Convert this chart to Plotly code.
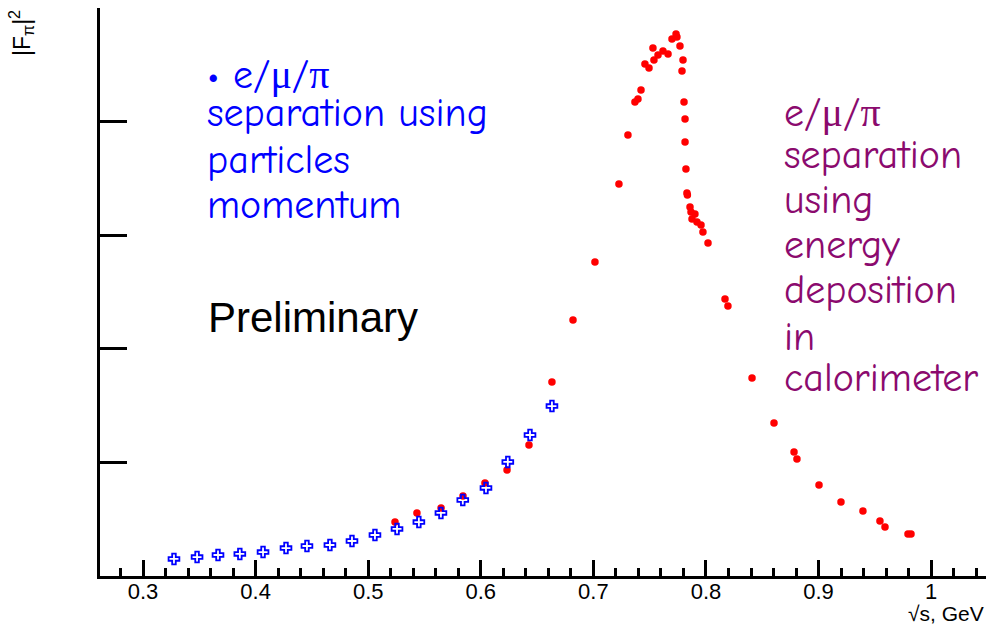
import plotly.graph_objects as go

# Blue: e/mu/pi separation using particle momentum
blue_x = [0.3275, 0.348, 0.3666, 0.386, 0.4066, 0.427, 0.4456, 0.466, 0.4856,
          0.506, 0.5256, 0.545, 0.5646, 0.584, 0.6046, 0.624, 0.6437, 0.6632]
blue_y = [1.50, 1.67, 1.85, 1.94, 2.11, 2.46, 2.64, 2.73, 3.08,
          3.61, 4.14, 4.75, 5.55, 6.69, 7.75, 10.04, 12.41, 14.96]

# Red: e/mu/pi separation using energy deposition in calorimeter
red_x = [0.5238, 0.5433, 0.5647, 0.5842, 0.6037, 0.6233, 0.6428, 0.6632, 0.6819,
         0.7014, 0.7227, 0.7307, 0.7369, 0.7396, 0.7423, 0.7458, 0.7494, 0.7529,
         0.7538, 0.7574, 0.7618, 0.7663, 0.7698, 0.7734, 0.7742, 0.7769, 0.7796,
         0.7787, 0.7805, 0.7814, 0.7814, 0.7822, 0.7831, 0.7835, 0.7858, 0.7867,
         0.7902, 0.7876, 0.7920, 0.7956, 0.7973, 0.8018, 0.8169, 0.8195, 0.8409,
         0.8604, 0.8782, 0.8808, 0.9004, 0.9199, 0.9394, 0.9545, 0.9590, 0.9794,
         0.9821]
red_y = [4.75, 5.55, 5.99, 7.04, 8.19, 9.33, 11.53, 17.08, 22.54,
         27.64, 34.51, 38.82, 41.73, 41.99, 42.78, 45.07, 44.72, 46.48,
         45.42, 45.86, 46.21, 45.95, 47.27, 47.71, 47.45, 46.65, 45.42,
         44.45, 41.73, 40.23, 38.20, 35.83, 33.71, 33.54, 32.48, 32.04,
         31.87, 31.43, 31.16, 30.90, 30.28, 29.31, 24.38, 23.77, 17.43,
         13.47, 10.92, 10.30, 8.01, 6.51, 5.72, 4.84, 4.31, 3.70,
         3.70]

x_tickvals = [0.3, 0.4, 0.5, 0.6, 0.7, 0.8, 0.9, 1.0]
x_ticktext = ["0.3", "0.4", "0.5", "0.6", "0.7", "0.8", "0.9", "1"]
y_tickvals = [0, 10, 20, 30, 40, 50]

SERIF = "<span style='font-family:Liberation Serif'>{}</span>"
blue_lines = ["• e/" + SERIF.format("μ") + "/" + SERIF.format("π"),
              "separation using", "particles", "momentum"]
purple_lines = ["e/" + SERIF.format("μ") + "/" + SERIF.format("π"),
                "separation", "using", "energy", "deposition", "in", "calorimeter"]

COMIC = "Comic Sans MS, Comic Neue, DejaVu Sans, sans-serif"

W, H = 986, 629
L, T, B = 100, 8, 629 - 576
PW, PH = W - L, H - T - B

fig = go.Figure()
fig.add_trace(go.Scatter(x=red_x, y=red_y, mode="markers",
                         marker=dict(symbol="circle", size=7.5, color="#ff0000"),
                         showlegend=False, cliponaxis=False))
fig.add_trace(go.Scatter(x=blue_x, y=blue_y, mode="markers",
                         marker=dict(symbol="cross-open", size=9, color="#0000ff",
                                     line=dict(width=1.8, color="#0000ff")),
                         showlegend=False))

annotations = []
blue_y_px = [75, 113, 160, 205]
for txt, py in zip(blue_lines, blue_y_px):
    annotations.append(dict(xref="paper", yref="paper", x=(205 - L) / PW,
                            y=(576 - py) / PH, xanchor="left", yanchor="middle",
                            text=txt, showarrow=False,
                            font=dict(family=COMIC, size=40, color="#0000ff")))
purple_y_px = [113, 155, 200, 245, 290, 337, 378]
for txt, py in zip(purple_lines, purple_y_px):
    annotations.append(dict(xref="paper", yref="paper", x=(782 - L) / PW,
                            y=(576 - py) / PH, xanchor="left", yanchor="middle",
                            text=txt, showarrow=False,
                            font=dict(family=COMIC, size=40, color="#8b0a6e")))
annotations.append(dict(xref="paper", yref="paper", x=(206 - L) / PW,
                        y=(576 - 317) / PH, xanchor="left", yanchor="middle",
                        text="Preliminary", showarrow=False,
                        font=dict(family="Liberation Sans, Arial", size=42, color="black")))
annotations.append(dict(xref="paper", yref="paper", x=-79 / PW, y=1.0,
                        xanchor="center", yanchor="top", textangle=-90,
                        text="|F<sub>π</sub>|<sup>2</sup>", showarrow=False,
                        font=dict(family="Liberation Sans, Arial", size=23, color="black")))
annotations.append(dict(xref="paper", yref="paper", x=1.0, y=-(613 - 576) / PH,
                        xanchor="right", yanchor="middle",
                        text="√s, GeV", showarrow=False,
                        font=dict(family="Liberation Sans, Arial", size=21, color="black")))

fig.update_layout(
    width=W, height=H,
    margin=dict(l=L, r=0, t=T, b=B, pad=0),
    paper_bgcolor="white", plot_bgcolor="white",
    annotations=annotations,
    xaxis=dict(range=[0.2618, 1.0487], showgrid=False, zeroline=False,
               showline=True, linewidth=3, linecolor="black",
               tickmode="array", tickvals=x_tickvals, ticktext=x_ticktext,
               ticks="inside", ticklen=16, tickwidth=3, tickcolor="black",
               ticklabelstandoff=-6,
               minor=dict(ticks="inside", ticklen=8, tickwidth=3, dtick=0.02,
                          tickcolor="black", showgrid=False),
               tickfont=dict(family="Liberation Sans, Arial", size=22, color="black")),
    yaxis=dict(range=[0, 50], showgrid=False, zeroline=False,
               showline=True, linewidth=3, linecolor="black",
               tickmode="array", tickvals=y_tickvals, showticklabels=False,
               ticks="inside", ticklen=27, tickwidth=3, tickcolor="black"),
)

fig.write_html("out.html",
               config=dict(displayModeBar=False),
               post_script="document.documentElement.style.margin='0';"
                           "document.body.style.margin='0';"
                           "document.body.style.overflow='hidden';")
